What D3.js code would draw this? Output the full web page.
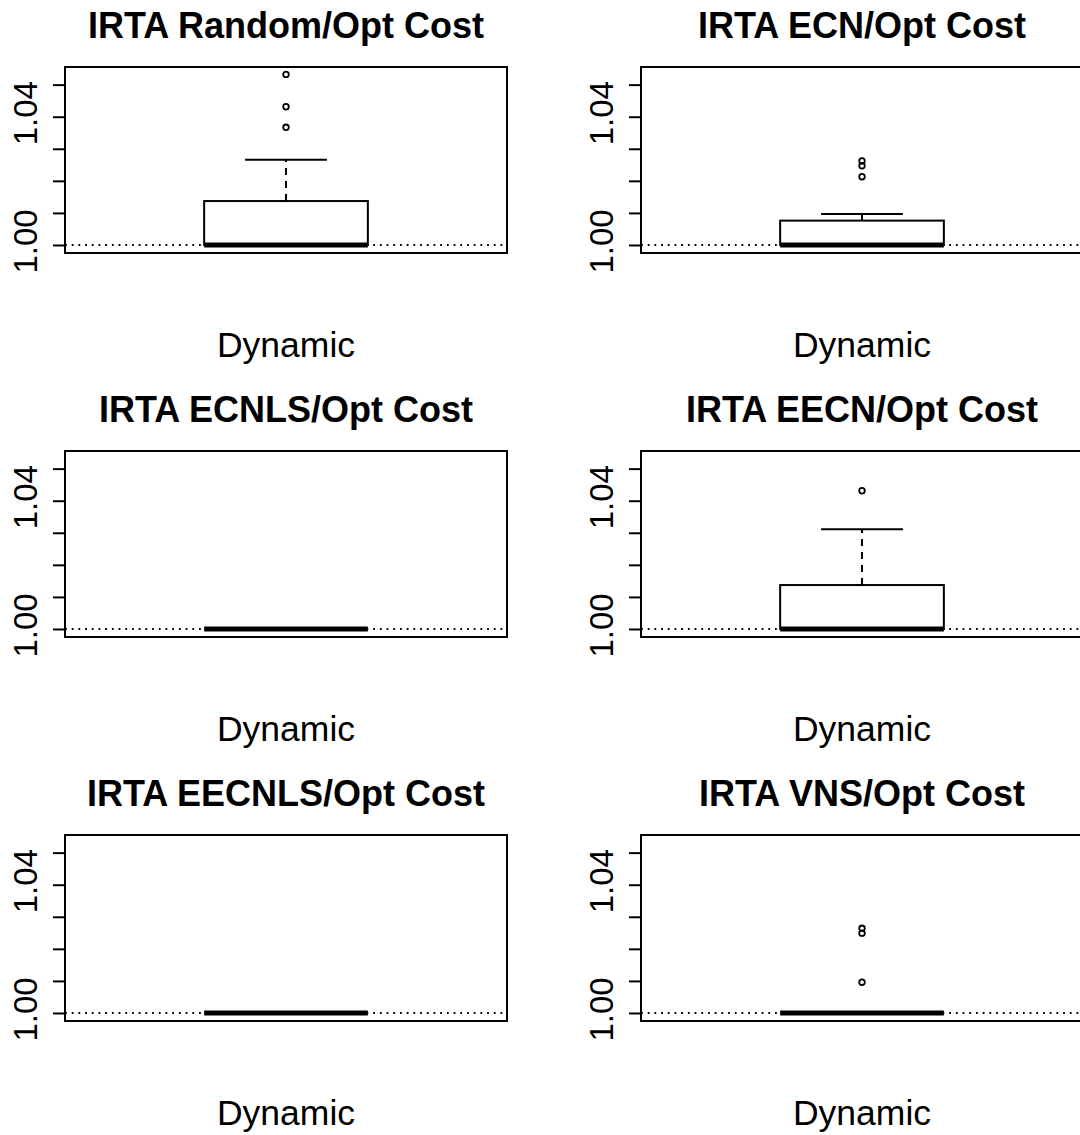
<!DOCTYPE html>
<html>
<head>
<meta charset="utf-8">
<script src="https://cdn.jsdelivr.net/npm/d3@7"></script>
<style>
  body { margin: 0; background: #fff; }
  text { font-family: "Liberation Sans", Arial, Helvetica, sans-serif; fill: #000; }
</style>
</head>
<body>
<svg width="1080" height="1135"></svg>
<script>
// Panel titles, one box per panel (group "Dynamic")
var titles = ["IRTA Random/Opt Cost", "IRTA ECN/Opt Cost", "IRTA ECNLS/Opt Cost",
              "IRTA EECN/Opt Cost", "IRTA EECNLS/Opt Cost", "IRTA VNS/Opt Cost"];
var groupLabel = "Dynamic";

// Box statistics
var whiskerLow = [1, 1, 1, 1, 1, 1];
var q1 = [1, 1, 1, 1, 1, 1];
var medians = [1, 1, 1, 1, 1, 1];
var q3 = [1.0137, 1.0076, 1.0, 1.0137, 1.0, 1.0];
var whiskerHigh = [1.0266, 1.0097, 1.0, 1.0311, 1.0, 1.0];
var outliers = [[1.0532, 1.0431, 1.0367], [1.0262, 1.0247, 1.0213], [],
                [1.0431], [], [1.0264, 1.0249, 1.0096]];

// y axis ticks and which of them get a label
var yTicks = [1.00, 1.01, 1.02, 1.03, 1.04, 1.05];
var yLabels = {"1.00": "1.00", "1.04": "1.04"};

var svg = d3.select("svg");

// layout of each panel
var plotW = 442, plotH = 186,
    left0 = 65, top0 = 67,
    colStep = 576, rowStep = 384;

var x = d3.scaleLinear().domain([0.46, 1.54]).range([0, plotW]);
var y = d3.scaleLinear().domain([0.9975, 1.0555]).range([plotH, 0]);

titles.forEach(function(t, i) {
    var col = i % 2, row = Math.floor(i / 2);
    var g = svg.append("g")
        .attr("transform", "translate(" + (left0 + col * colStep) + "," + (top0 + row * rowStep) + ")");

    // reference line at 1
    g.append("line")
        .attr("x1", 0).attr("x2", plotW)
        .attr("y1", y(1)).attr("y2", y(1))
        .attr("stroke", "#000")
        .attr("stroke-width", 1.8)
        .attr("stroke-dasharray", "1.8,4.9");

    // whiskers (dashed)
    g.append("line")
        .attr("x1", x(1)).attr("x2", x(1))
        .attr("y1", y(q3[i])).attr("y2", y(whiskerHigh[i]))
        .attr("stroke", "#000").attr("stroke-width", 2)
        .attr("stroke-dasharray", "7,6");
    g.append("line")
        .attr("x1", x(1)).attr("x2", x(1))
        .attr("y1", y(q1[i])).attr("y2", y(whiskerLow[i]))
        .attr("stroke", "#000").attr("stroke-width", 2)
        .attr("stroke-dasharray", "7,6");

    // whisker caps
    [whiskerHigh[i], whiskerLow[i]].forEach(function(v) {
        g.append("line")
            .attr("x1", x(0.9)).attr("x2", x(1.1))
            .attr("y1", y(v)).attr("y2", y(v))
            .attr("stroke", "#000").attr("stroke-width", 2);
    });

    // box
    if (q3[i] > q1[i]) {
        g.append("rect")
            .attr("x", x(0.8)).attr("width", x(1.2) - x(0.8))
            .attr("y", y(q3[i])).attr("height", y(q1[i]) - y(q3[i]))
            .attr("fill", "#fff")
            .attr("stroke", "#000").attr("stroke-width", 2);
    }

    // median
    g.append("line")
        .attr("x1", x(0.8)).attr("x2", x(1.2))
        .attr("y1", y(medians[i])).attr("y2", y(medians[i]))
        .attr("stroke", "#000").attr("stroke-width", 5);

    // outliers
    g.selectAll("circle.out")
        .data(outliers[i])
        .enter().append("circle")
        .attr("class", "out")
        .attr("cx", x(1))
        .attr("cy", function(d) { return y(d); })
        .attr("r", 2.8)
        .attr("fill", "none")
        .attr("stroke", "#000")
        .attr("stroke-width", 1.8);

    // frame
    g.append("rect")
        .attr("width", plotW).attr("height", plotH)
        .attr("fill", "none")
        .attr("stroke", "#000").attr("stroke-width", 2);

    // y axis ticks
    var yAxis = d3.axisLeft(y)
        .tickValues(yTicks)
        .tickSize(12)
        .tickFormat("");
    var ax = g.append("g").call(yAxis);
    ax.select(".domain").remove();
    ax.selectAll(".tick line").attr("stroke-width", 2);

    // rotated tick labels
    g.selectAll("text.ylab")
        .data(yTicks.filter(function(d) { return yLabels[d.toFixed(2)]; }))
        .enter().append("text")
        .attr("class", "ylab")
        .attr("transform", function(d) { return "translate(-28," + (y(d) - 3.5) + ") rotate(-90)"; })
        .style("text-anchor", "middle")
        .style("font-size", "33px")
        .text(function(d) { return yLabels[d.toFixed(2)]; });

    // title
    g.append("text")
        .attr("x", plotW / 2)
        .attr("y", -29)
        .style("text-anchor", "middle")
        .style("font-size", "36px")
        .style("font-weight", "bold")
        .text(t);

    // group label
    g.append("text")
        .attr("x", x(1))
        .attr("y", 290)
        .style("text-anchor", "middle")
        .style("font-size", "35.5px")
        .text(groupLabel);
});
</script>
</body>
</html>
